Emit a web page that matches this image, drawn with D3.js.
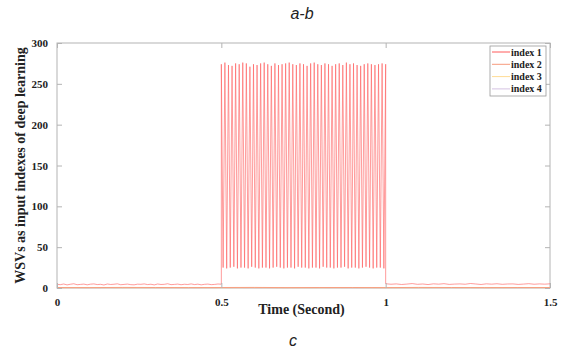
<!DOCTYPE html>
<html><head><meta charset="utf-8">
<script src="https://cdn.jsdelivr.net/npm/d3@7"></script>
<style>body{margin:0;background:#fff}svg{display:block}</style>
</head><body>
<svg id="c" width="575" height="354"></svg>
<script>
// ---- data ----
const seriesNames = ["index 1", "index 2", "index 3", "index 4"];
const xTicks = [0, 0.5, 1, 1.5];
const xTickLabels = ["0", "0.5", "1", "1.5"];
const yTicks = [0, 50, 100, 150, 200, 250, 300];
// index 1 baseline before 0.5 s and after 1 s
const idx1Before = [4.5,4.1,4.9,3.8,4.6,5.2,4.0,4.4,4.8,3.9,4.7,5.0,4.2,4.5,3.7,4.9,4.3,4.6,5.1,4.0,4.4,4.8,4.1,3.9,4.7,4.5,5.0,4.2,4.6,3.8,4.9,4.3,4.5,5.2,4.1,4.4,4.8,4.0,4.6,4.3,5.0,4.2,4.7,3.9,4.5,4.8,4.1,4.4,4.9,4.6];
const idx1After = [5.2,4.6,5.0,4.3,4.8,5.4,4.5,4.9,4.2,5.1,4.7,5.3,4.4,4.8,5.0,4.6,5.5,4.9,4.3,5.1,4.7,5.2,4.5,4.9,5.0,4.4,4.8,5.3,4.6,5.0,4.7,5.1];
// index 1 oscillation between 0.5 s and 1 s
const idx1Peaks = [274,276,273,272,275,274,276,275,271,274,273,275,276,274,272,275,273,274,275,276,274,273,275,274,272,275,276,274,273,275,274,272,274,275,273,276,274,275,273,272,274,275,274,273,274,275,274];
const idx1Troughs = [25,24,25,26,24,25,25,24,26,25,24,25,25,24,25,26,25,24,25,25,24,26,25,25,24,25,25,24,26,25,25,24,25,25,26,24,25,25,24,25,26,25,24,25,25,24];
// indices 2-4 stay near zero
const idx2 = [0.6,0.5,0.7,0.6,0.5,0.6,0.7,0.5,0.6,0.6,0.5,0.7,0.6,0.5,0.6,0.6];
const idx3 = [0.3,0.4,0.3,0.3,0.4,0.3,0.4,0.3,0.3,0.4,0.3,0.3,0.4,0.3,0.4,0.3];
const idx4 = [0.2,0.2,0.3,0.2,0.2,0.3,0.2,0.2,0.3,0.2,0.2,0.2,0.3,0.2,0.2,0.2];
const colors = ["#ff5a5a", "#f79a7c", "#ffdc96", "#d4c2e2"];

// ---- layout ----
const svg = d3.select("#c");
const L = 57, R = 550, T = 43, B = 288;
const x = d3.scaleLinear().domain([0, 1.5]).range([L, R]);
const y = d3.scaleLinear().domain([0, 300]).range([B, T]);

// build series 1 points
const s1 = [];
idx1Before.forEach((v, i) => s1.push([0.5 * i / (idx1Before.length - 1), v]));
const nCyc = idx1Troughs.length;
const per = 0.5 / nCyc;
for (let i = 0; i < nCyc; i++) {
  s1.push([0.5 + i * per, idx1Peaks[i]]);
  s1.push([0.5 + (i + 0.5) * per, idx1Troughs[i]]);
}
s1.push([1.0, idx1Peaks[nCyc]]);
idx1After.forEach((v, i) => s1.push([1.0 + 0.5 * i / (idx1After.length - 1), v]));

const flat = arr => arr.map((v, i) => [1.5 * i / (arr.length - 1), v]);
const series = [s1, flat(idx2), flat(idx3), flat(idx4)];

const line = d3.line().x(d => x(d[0])).y(d => y(d[1]));

// frame
svg.append("rect").attr("x", L).attr("y", T).attr("width", R - L).attr("height", B - T)
  .attr("fill", "#fff").attr("stroke", "#b4b4b4").attr("stroke-width", 1);

// series (draw in reverse so index 1 is on top)
[3, 2, 1, 0].forEach(k => {
  svg.append("path").attr("d", line(series[k])).attr("fill", "none")
    .attr("stroke", colors[k]).attr("stroke-width", 1)
    .attr("stroke-opacity", k === 0 ? 0.6 : 0.9);
});

// axes with inward ticks
const tickFont = g => g.selectAll("text").attr("font-family", "Liberation Serif, Times New Roman, serif")
  .attr("font-weight", "bold").attr("font-size", 11).attr("fill", "#222");
const xAxis = d3.axisBottom(x).tickValues(xTicks).tickFormat((d, i) => xTickLabels[i]).tickSizeInner(-5).tickSizeOuter(0).tickPadding(10);
const gx = svg.append("g").attr("transform", `translate(0,${B})`).call(xAxis);
gx.select(".domain").remove();
gx.selectAll("line").attr("stroke", "#b4b4b4");
tickFont(gx);
const xTop = d3.axisTop(x).tickValues(xTicks).tickFormat("").tickSizeInner(-5).tickSizeOuter(0);
const gxt = svg.append("g").attr("transform", `translate(0,${T})`).call(xTop);
gxt.select(".domain").remove(); gxt.selectAll("line").attr("stroke", "#b4b4b4");

const yAxis = d3.axisLeft(y).tickValues(yTicks).tickSizeInner(-5).tickSizeOuter(0).tickPadding(9);
const gy = svg.append("g").attr("transform", `translate(${L},0)`).call(yAxis);
gy.select(".domain").remove();
gy.selectAll("line").attr("stroke", "#b4b4b4");
tickFont(gy);
const yRight = d3.axisRight(y).tickValues(yTicks).tickFormat("").tickSizeInner(-5).tickSizeOuter(0);
const gyr = svg.append("g").attr("transform", `translate(${R},0)`).call(yRight);
gyr.select(".domain").remove(); gyr.selectAll("line").attr("stroke", "#b4b4b4");

// labels
svg.append("text").attr("x", (L + R) / 2 - 2).attr("y", 314).attr("text-anchor", "middle")
  .attr("font-family", "Liberation Serif, serif").attr("font-weight", "bold").attr("font-size", 14)
  .attr("fill", "#222").text("Time (Second)");
svg.append("text").attr("transform", `translate(25,${(T + B) / 2}) rotate(-90)`).attr("text-anchor", "middle")
  .attr("font-family", "Liberation Serif, serif").attr("font-weight", "bold").attr("font-size", 14)
  .attr("fill", "#222").text("WSVs as input indexes of deep learning");
svg.append("text").attr("x", 302).attr("y", 19).attr("text-anchor", "middle")
  .attr("font-family", "Liberation Sans, Arial, sans-serif").attr("font-style", "italic").attr("font-size", 16)
  .attr("fill", "#222").text("a-b");
svg.append("text").attr("x", 293).attr("y", 346).attr("text-anchor", "middle")
  .attr("font-family", "Liberation Sans, Arial, sans-serif").attr("font-style", "italic").attr("font-size", 16)
  .attr("fill", "#222").text("c");

// legend
const lg = svg.append("g");
lg.append("rect").attr("x", 490).attr("y", 46).attr("width", 56).attr("height", 50)
  .attr("fill", "#fff").attr("stroke", "#999").attr("stroke-width", 0.8);
seriesNames.forEach((n, i) => {
  const yy = 52 + i * 12.3;
  lg.append("line").attr("x1", 492).attr("x2", 510).attr("y1", yy).attr("y2", yy)
    .attr("stroke", colors[i]).attr("stroke-width", 1);
  lg.append("text").attr("x", 511).attr("y", yy + 3.5)
    .attr("font-family", "Liberation Serif, serif").attr("font-weight", "bold").attr("font-size", 10)
    .attr("fill", "#222").text(n);
});
</script>
</body></html>
